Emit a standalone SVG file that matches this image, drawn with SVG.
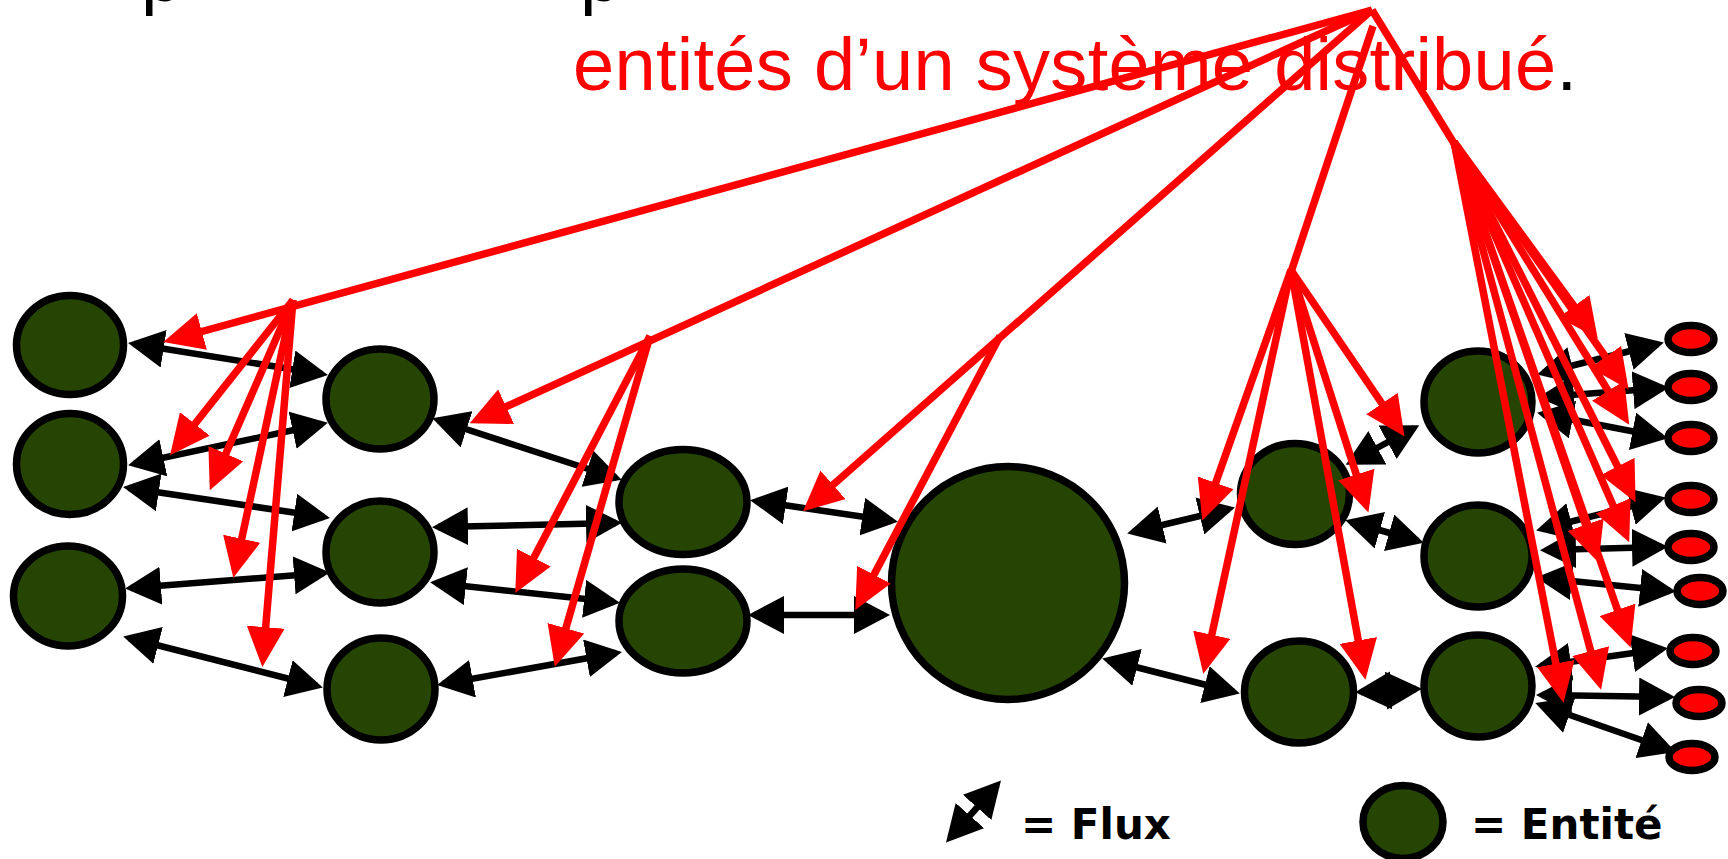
<svg xmlns="http://www.w3.org/2000/svg" width="1728" height="859" viewBox="0 0 1728 859">
  <style>
    .ent { fill: #264503; stroke: #000; stroke-width: 7.5; }
    .ext { fill: #ff0000; stroke: #000; stroke-width: 7.5; }
    .flow { stroke: #000; stroke-width: 6.5; fill: none; marker-start: url(#bk); marker-end: url(#bk); }
    .ctl { stroke: #ff0000; stroke-width: 7.5; fill: none; marker-end: url(#rd); }
    .ctl-l { stroke: #ff0000; stroke-width: 7.5; fill: none; }
    .title { font-family: "Liberation Sans", Arial, sans-serif; font-size: 74px; }
    .legend { font-family: "DejaVu Sans", sans-serif; font-weight: bold; font-size: 42px; fill: #000; }
  </style>
  <defs>
    <marker id="bk" viewBox="0 0 36 38" refX="30" refY="19" markerWidth="36" markerHeight="38" markerUnits="userSpaceOnUse" orient="auto-start-reverse">
      <path d="M0,0 L36,19 L0,38 z" fill="#000"/>
    </marker>
    <marker id="rd" viewBox="0 0 40 38" refX="32" refY="19" markerWidth="40" markerHeight="38" markerUnits="userSpaceOnUse" orient="auto">
      <path d="M0,0 L40,19 L0,38 z" fill="#ff0000"/>
    </marker>
  </defs>

  <rect width="1728" height="859" fill="#fff"/>

  <!-- heading lines -->
  <text class="title" x="141" y="1" fill="#000">p</text>
  <text class="title" x="580" y="1" fill="#000">p</text>
  <text class="title" x="573" y="90" fill="#ff0000" textLength="1004" lengthAdjust="spacing">entités d’un système distribué<tspan fill="#000">.</tspan></text>

  <!-- entities -->
  <g id="n1"><ellipse class="ent" cx="70" cy="345" rx="53.5" ry="49.5"/></g>
  <g id="n2"><ellipse class="ent" cx="70" cy="464" rx="53.5" ry="50.5"/></g>
  <g id="n3"><ellipse class="ent" cx="68" cy="596" rx="54.5" ry="50"/></g>
  <g id="n4"><ellipse class="ent" cx="380" cy="399" rx="54" ry="50"/></g>
  <g id="n5"><ellipse class="ent" cx="380" cy="552" rx="54" ry="51"/></g>
  <g id="n6"><ellipse class="ent" cx="381" cy="689" rx="54" ry="51"/></g>
  <g id="n7"><ellipse class="ent" cx="683" cy="502" rx="64" ry="52.5"/></g>
  <g id="n8"><ellipse class="ent" cx="683" cy="621" rx="64" ry="52"/></g>
  <g id="n9"><ellipse class="ent" cx="1008" cy="583" rx="116.5" ry="116.5"/></g>
  <g id="n10"><ellipse class="ent" cx="1295" cy="494" rx="54.5" ry="50.5"/></g>
  <g id="n11"><ellipse class="ent" cx="1299" cy="692" rx="54.5" ry="51"/></g>
  <g id="n12"><ellipse class="ent" cx="1478" cy="402" rx="54" ry="51"/></g>
  <g id="n13"><ellipse class="ent" cx="1478" cy="556" rx="54" ry="51"/></g>
  <g id="n14"><ellipse class="ent" cx="1478" cy="686" rx="54" ry="51"/></g>

  <!-- external endpoints -->
  <g id="x1"><ellipse class="ext" cx="1691" cy="339" rx="23" ry="13.5"/></g>
  <g id="x2"><ellipse class="ext" cx="1691" cy="387" rx="23" ry="13.5"/></g>
  <g id="x3"><ellipse class="ext" cx="1691" cy="438" rx="23" ry="13.5"/></g>
  <g id="x4"><ellipse class="ext" cx="1691" cy="499" rx="23" ry="13.5"/></g>
  <g id="x5"><ellipse class="ext" cx="1691" cy="547" rx="23" ry="13.5"/></g>
  <g id="x6"><ellipse class="ext" cx="1700" cy="591" rx="23" ry="13.5"/></g>
  <g id="x7"><ellipse class="ext" cx="1693" cy="651" rx="23" ry="13.5"/></g>
  <g id="x8"><ellipse class="ext" cx="1699" cy="703" rx="23" ry="13.5"/></g>
  <g id="x9"><ellipse class="ext" cx="1692" cy="757" rx="23" ry="13.5"/></g>

  <!-- flows between entities -->
  <g id="flows">
    <line class="flow" x1="134" y1="344" x2="322" y2="374"/>
    <line class="flow" x1="134" y1="464" x2="322" y2="424"/>
    <line class="flow" x1="129" y1="488" x2="324" y2="517"/>
    <line class="flow" x1="131" y1="588" x2="324" y2="573"/>
    <line class="flow" x1="129" y1="638" x2="317" y2="686"/>
    <line class="flow" x1="438" y1="420" x2="616" y2="478"/>
    <line class="flow" x1="438" y1="527" x2="616" y2="523"/>
    <line class="flow" x1="436" y1="583" x2="614" y2="602"/>
    <line class="flow" x1="443" y1="684" x2="616" y2="653"/>
    <line class="flow" x1="756" y1="501" x2="892" y2="521"/>
    <line class="flow" x1="754" y1="615" x2="884" y2="615"/>
    <line class="flow" x1="1133" y1="532" x2="1229" y2="509"/>
    <line class="flow" x1="1108" y1="660" x2="1234" y2="692"/>
    <line class="flow" x1="1351" y1="462" x2="1414" y2="428"/>
    <line class="flow" x1="1351" y1="522" x2="1418" y2="541"/>
    <line class="flow" x1="1361" y1="692" x2="1416" y2="689"/>
    <line class="flow" x1="1543" y1="373" x2="1658" y2="344"/>
    <line class="flow" x1="1544" y1="397" x2="1663" y2="388"/>
    <line class="flow" x1="1543" y1="414" x2="1662" y2="437"/>
    <line class="flow" x1="1542" y1="529" x2="1660" y2="499"/>
    <line class="flow" x1="1546" y1="550" x2="1662" y2="547"/>
    <line class="flow" x1="1542" y1="578" x2="1670" y2="591"/>
    <line class="flow" x1="1541" y1="666" x2="1662" y2="649"/>
    <line class="flow" x1="1542" y1="695" x2="1669" y2="697"/>
    <line class="flow" x1="1541" y1="705" x2="1670" y2="750"/>
  </g>

  <!-- pointers from the heading to the entities and flows -->
  <g id="pointers">
    <line class="ctl" x1="1372" y1="10" x2="171" y2="340"/>
    <line class="ctl" x1="293" y1="300" x2="175" y2="449"/>
    <line class="ctl" x1="293" y1="300" x2="213" y2="483"/>
    <line class="ctl" x1="293" y1="300" x2="235" y2="570"/>
    <line class="ctl" x1="293" y1="300" x2="263" y2="659"/>

    <line class="ctl" x1="1372" y1="10" x2="477" y2="420"/>
    <line class="ctl" x1="650" y1="336" x2="519" y2="586"/>
    <line class="ctl" x1="650" y1="336" x2="557" y2="659"/>

    <line class="ctl" x1="1372" y1="10" x2="809" y2="506"/>
    <line class="ctl" x1="1000" y1="336" x2="859" y2="603"/>

    <line class="ctl-l" x1="1373" y1="26" x2="1291" y2="272"/>
    <line class="ctl" x1="1291" y1="270" x2="1205" y2="513"/>
    <line class="ctl" x1="1291" y1="270" x2="1205" y2="666"/>
    <line class="ctl" x1="1291" y1="270" x2="1366" y2="505"/>
    <line class="ctl" x1="1291" y1="270" x2="1364" y2="672"/>
    <line class="ctl" x1="1291" y1="270" x2="1400" y2="430"/>

    <line class="ctl-l" x1="1372" y1="10" x2="1455" y2="145"/>
    <line class="ctl" x1="1454" y1="142" x2="1593" y2="332"/>
    <line class="ctl" x1="1454" y1="142" x2="1624" y2="383"/>
    <line class="ctl" x1="1454" y1="142" x2="1625" y2="418"/>
    <line class="ctl" x1="1454" y1="142" x2="1632" y2="495"/>
    <line class="ctl" x1="1454" y1="142" x2="1626" y2="535"/>
    <line class="ctl" x1="1454" y1="142" x2="1596" y2="555"/>
    <line class="ctl" x1="1454" y1="142" x2="1628" y2="640"/>
    <line class="ctl" x1="1454" y1="142" x2="1599" y2="682"/>
    <line class="ctl" x1="1454" y1="142" x2="1562" y2="695"/>
  </g>

  <!-- legend -->
  <g id="legend-flux">
    <line class="flow" x1="950" y1="838" x2="997" y2="785"/>
    <text class="legend" x="1021" y="839">= Flux</text>
  </g>
  <g id="legend-entity">
    <ellipse class="ent" cx="1403" cy="822" rx="40" ry="36.5"/>
    <text class="legend" x="1471" y="839">= Entité</text>
  </g>
</svg>
